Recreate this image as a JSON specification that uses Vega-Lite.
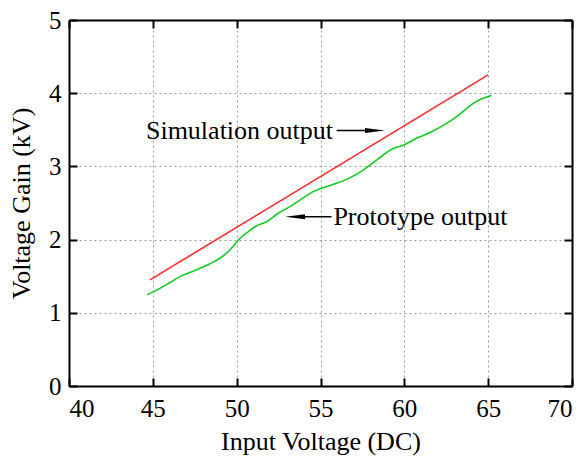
{
  "$schema": "https://vega.github.io/schema/vega-lite/v6.json",
  "width": 503,
  "height": 366,
  "autosize": {"type": "none"},
  "padding": {"left": 69, "top": 20, "right": 14, "bottom": 73},
  "background": "white",
  "config": {
    "view": {"stroke": null},
    "font": "Liberation Serif",
    "axis": {
      "domainColor": "black",
      "domainWidth": 2,
      "tickColor": "black",
      "tickWidth": 2,
      "tickSize": -8,
      "labelFont": "Liberation Serif",
      "labelFontSize": 25,
      "labelColor": "black",
      "titleFont": "Liberation Serif",
      "titleFontSize": 26,
      "titleFontWeight": "normal",
      "titleColor": "black",
      "gridColor": "#9a9a9a",
      "gridDash": [2, 3],
      "gridWidth": 1
    }
  },
  "datasets": {
    "sim": [
      {"x": 44.83, "y": 1.45, "series": "Simulation output"},
      {"x": 65.0, "y": 4.25, "series": "Simulation output"}
    ],
    "proto": [
      {"x": 44.65, "y": 1.245},
      {"x": 45.43, "y": 1.334},
      {"x": 46.0, "y": 1.41},
      {"x": 46.62, "y": 1.494},
      {"x": 47.2, "y": 1.55},
      {"x": 47.81, "y": 1.608},
      {"x": 48.4, "y": 1.67},
      {"x": 49.0, "y": 1.745},
      {"x": 49.6, "y": 1.858},
      {"x": 50.2, "y": 2.018},
      {"x": 50.7, "y": 2.11},
      {"x": 51.09, "y": 2.176},
      {"x": 51.79, "y": 2.245},
      {"x": 52.48, "y": 2.36},
      {"x": 53.18, "y": 2.45},
      {"x": 53.9, "y": 2.56},
      {"x": 54.57, "y": 2.655},
      {"x": 55.3, "y": 2.72},
      {"x": 55.96, "y": 2.77},
      {"x": 56.8, "y": 2.85},
      {"x": 57.55, "y": 2.95},
      {"x": 58.2, "y": 3.06},
      {"x": 58.74, "y": 3.156},
      {"x": 59.3, "y": 3.24},
      {"x": 59.93, "y": 3.29},
      {"x": 60.7, "y": 3.38},
      {"x": 61.6, "y": 3.47},
      {"x": 62.4, "y": 3.57},
      {"x": 63.12, "y": 3.68},
      {"x": 63.6, "y": 3.77},
      {"x": 64.11, "y": 3.86},
      {"x": 64.7, "y": 3.93},
      {"x": 65.2, "y": 3.97}
    ],
    "labels": [
      {"x": 44.59, "y": 3.49, "text": "Simulation output"},
      {"x": 55.77, "y": 2.313, "text": "Prototype output"}
    ],
    "shafts": [
      {"x": 55.96, "x2": 58.0, "y": 3.49},
      {"x": 55.66, "x2": 53.6, "y": 2.313}
    ],
    "heads": [
      {"x": 58.25, "y": 3.49, "dir": "right"},
      {"x": 53.48, "y": 2.313, "dir": "left"}
    ]
  },
  "resolve": {"axis": {"x": "independent", "y": "independent"}},
  "layer": [
    {
      "data": {"name": "sim"},
      "mark": {"type": "line", "color": "#ff2a2a", "strokeWidth": 1.6},
      "encoding": {
        "x": {
          "field": "x", "type": "quantitative",
          "scale": {"domain": [40, 70], "nice": false},
          "axis": {"values": [40, 45, 50, 55, 60, 65, 70], "title": "Input Voltage (DC)", "grid": true, "labelPadding": 18, "titlePadding": 7, "tickSize": -8}
        },
        "y": {
          "field": "y", "type": "quantitative",
          "scale": {"domain": [0, 5], "nice": false},
          "axis": {"values": [0, 1, 2, 3, 4, 5], "title": "Voltage Gain (kV)", "grid": true, "labelPadding": 16, "titlePadding": 14, "tickSize": -8}
        }
      }
    },
    {
      "data": {"name": "proto"},
      "mark": {"type": "line", "color": "#11cc22", "strokeWidth": 1.6, "interpolate": "monotone"},
      "encoding": {
        "x": {
          "field": "x", "type": "quantitative",
          "axis": {"orient": "top", "values": [40, 45, 50, 55, 60, 65, 70], "labels": false, "title": null, "grid": false, "tickSize": -8}
        },
        "y": {
          "field": "y", "type": "quantitative",
          "axis": {"orient": "right", "values": [0, 1, 2, 3, 4, 5], "labels": false, "title": null, "grid": false, "tickSize": -8}
        }
      }
    },
    {
      "data": {"name": "shafts"},
      "mark": {"type": "rule", "color": "black", "strokeWidth": 1.5},
      "encoding": {
        "x": {"field": "x", "type": "quantitative", "axis": null},
        "x2": {"field": "x2"},
        "y": {"field": "y", "type": "quantitative", "axis": null}
      }
    },
    {
      "data": {"name": "heads"},
      "mark": {"type": "point", "filled": true, "color": "black", "opacity": 1, "size": 400},
      "encoding": {
        "x": {"field": "x", "type": "quantitative", "axis": null},
        "y": {"field": "y", "type": "quantitative", "axis": null},
        "shape": {
          "field": "dir", "type": "nominal",
          "scale": {"domain": ["right", "left"], "range": ["M-1,-0.25L1,0L-1,0.25Z", "M1,-0.25L-1,0L1,0.25Z"]},
          "legend": null
        }
      }
    },
    {
      "data": {"name": "labels"},
      "mark": {"type": "text", "align": "left", "baseline": "middle", "fontSize": 26, "font": "Liberation Serif", "color": "black"},
      "encoding": {
        "x": {"field": "x", "type": "quantitative", "axis": null},
        "y": {"field": "y", "type": "quantitative", "axis": null},
        "text": {"field": "text"}
      }
    }
  ]
}
